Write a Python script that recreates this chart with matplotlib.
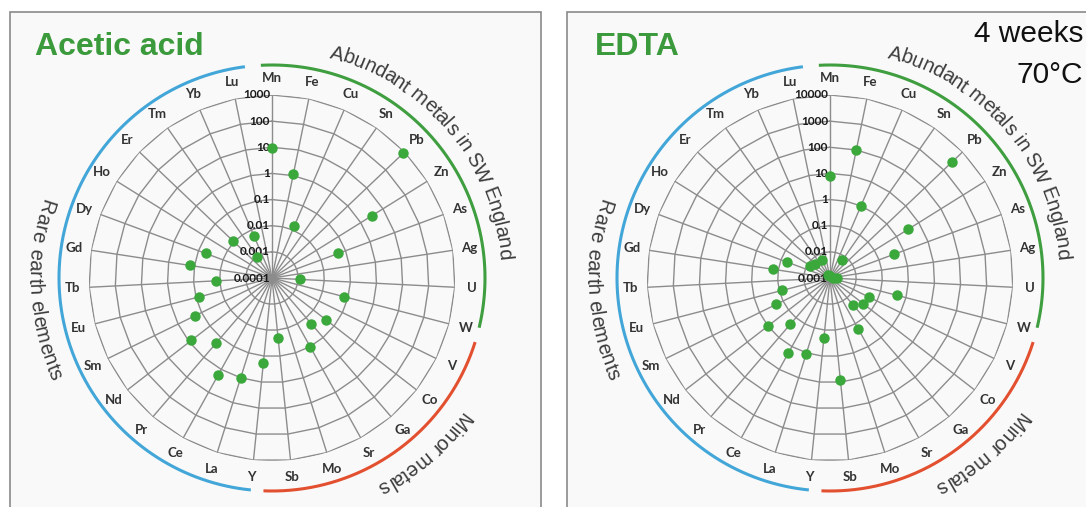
import numpy as np
import matplotlib
matplotlib.use('Agg')
import matplotlib.pyplot as plt
from matplotlib.font_manager import FontProperties
from matplotlib.patches import Rectangle

# ---- data (log values, NaN = no point shown) ----
elements = ['Mn', 'Fe', 'Cu', 'Sn', 'Pb', 'Zn', 'As', 'Ag', 'U', 'W', 'V', 'Co', 'Ga', 'Sr', 'Mo', 'Sb',
            'Y', 'La', 'Ce', 'Pr', 'Nd', 'Sm', 'Eu', 'Tb', 'Gd', 'Dy', 'Ho', 'Er', 'Tm', 'Yb', 'Lu']
nan = np.nan
acetic = [9, 1.2, 0.014, nan, 850, 3.2, 0.05, nan, 0.0012, 0.07, nan, 0.04, 0.02, 0.1, nan, 0.02,
          0.19, 1.0, 1.7, 0.2, 0.8, 0.2, 0.08, 0.014, 0.15, 0.05, nan, 0.011, 0.001, 0.0055, nan]
edta = [8, 100, 1.0, 0.0066, 2600, 3.4, 0.4, 0.0013, 0.0018, 0.45, 0.045, 0.04, 0.022, 0.17, nan, 8,
        0.2, 1.1, 2.0, 0.22, 0.95, 0.2, 0.08, nan, 0.16, 0.055, 0.008, 0.006, 0.0014, 0.0055, 0.0012]
acetic_ticks = ['0.0001', '0.001', '0.01', '0.1', '1', '10', '100', '1000']
edta_ticks = ['0.001', '0.01', '0.1', '1', '10', '100', '1000', '10000']
titles = ['Acetic acid', 'EDTA']
group_names = ['Abundant metals in SW England', 'Minor metals', 'Rare earth elements']
group_colors = ['#3f9e3f', '#e2502f', '#43a6d8']

W, H = 1086, 507
R_PX = 183
fig = plt.figure(figsize=(W / 100, H / 100), dpi=100)
fig.patch.set_facecolor('white')

# panel frames
fig.patches.append(Rectangle((9.5 / W, -0.05), 531 / W, (H - 12) / H + 0.05, transform=fig.transFigure,
                             fc='#f9f9f9', ec='#8a8a8a', lw=1.2, zorder=-5))
fig.patches.append(Rectangle((567 / W, -0.05), 0.5, (H - 12) / H + 0.05, transform=fig.transFigure,
                             fc='#f9f9f9', ec='#8a8a8a', lw=1.2, zorder=-5))

green_txt = '#3b9a3b'
grid_c = '#8c8c8c'
lab_c = '#333333'
ren = fig.canvas.get_renderer()


def arc_text(ax, rpx, s, mid, r_c, clockwise, fp, color):
    def w(t):
        return ren.get_text_width_height_descent(t, fp, ismath=False)[0]
    bar = w('|')
    pos = [0.0] + [w(s[:i] + '|') - bar for i in range(1, len(s) + 1)]
    total = pos[-1]
    cap = fp.get_size_in_points() * fig.dpi / 72 * 0.72
    for i, ch in enumerate(s):
        if ch == ' ':
            continue
        c = 0.5 * (pos[i] + pos[i + 1]) - total / 2
        d = np.degrees(c / r_c)
        if clockwise:
            th = mid + d
            rot = -th
            rb = r_c - cap / 2
        else:
            th = mid - d
            rot = 180 - th
            rb = r_c + cap / 2
        ax.text(np.radians(th), rpx(rb), ch, rotation=rot, rotation_mode='anchor', ha='center',
                va='baseline', fontproperties=fp, color=color, clip_on=False)


def panel(cx, cy, vals, ticks, title, tx):
    ax = fig.add_axes([(cx - R_PX) / W, (H - cy - R_PX) / H, 2 * R_PX / W, 2 * R_PX / H], projection='polar')
    ax.set_theta_zero_location('N')
    ax.set_theta_direction(-1)
    ax.set_rscale('log')
    rmin, rmax = float(ticks[0]), float(ticks[-1])
    ax.set_rlim(rmin, rmax)
    ax.grid(False)
    ax.set_xticks([])
    ax.set_yticks([])
    ax.spines['polar'].set_visible(False)
    ax.patch.set_visible(False)

    def rpx(px):
        return rmin * (rmax / rmin) ** (px / R_PX)

    n = len(elements)
    th = np.arange(n) * 2 * np.pi / n
    # spokes
    for t in th:
        ax.plot([t, t], [rmin, rmax], color=grid_c, lw=1.0, zorder=1)
    # polygon rings
    for tk in ticks[1:]:
        v = float(tk)
        ax.plot(np.append(th, th[0]), [v] * (n + 1), color=grid_c, lw=1.0, zorder=1)
    # radial labels on Mn spoke
    for tk in ticks:
        ax.annotate(tk, (0, float(tk)), xytext=(-1.5, 0), textcoords='offset points', ha='right',
                    va='center', fontsize=8.5, fontweight='bold', family='Lato', color='#1a1a1a', zorder=3)
    # element labels
    for t, e in zip(th, elements):
        ax.text(t, rpx(R_PX + 17), e, ha='center', va='center', fontsize=9.5, fontweight='bold',
                family='Lato', color=lab_c, clip_on=False)
    # data points
    ax.plot(th, vals, 'o', ms=6.5, color='#3aa83a', mec='#3aa83a', zorder=5, clip_on=False)

    # group arcs
    spans = [(-3, 103.5), (107.5, 182.3), (185.7, 352.7)]
    for (a0, a1), col in zip(spans, group_colors):
        a = np.radians(np.linspace(a0, a1, 200))
        ax.plot(a, np.full(a.size, rpx(213)), color=col, lw=2.2, clip_on=False, solid_capstyle='butt')

    fp = FontProperties(family='Liberation Sans', size=14.5)
    arc_text(ax, rpx, group_names[0], 50, 235, True, fp, '#3c3c3c')
    arc_text(ax, rpx, group_names[1], 139, 238, True, fp, '#3c3c3c')
    arc_text(ax, rpx, group_names[2], 267, 236, False, fp, '#3c3c3c')

    fig.text(tx / W, 1 - 55 / H, title, fontsize=23, fontweight='bold', family='Liberation Sans',
             color=green_txt, va='baseline')
    return ax


panel(272, 278, acetic, acetic_ticks, titles[0], 35)
panel(830, 278, edta, edta_ticks, titles[1], 595)

fig.text(1083 / W, 1 - 42 / H, '4 weeks', fontsize=21.5, family='Liberation Sans', ha='right',
         va='baseline', color='#111111')
fig.text(1083 / W, 1 - 83 / H, '70°C', fontsize=21.5, family='Liberation Sans', ha='right',
         va='baseline', color='#111111')

fig.savefig('out.png', dpi=100)
